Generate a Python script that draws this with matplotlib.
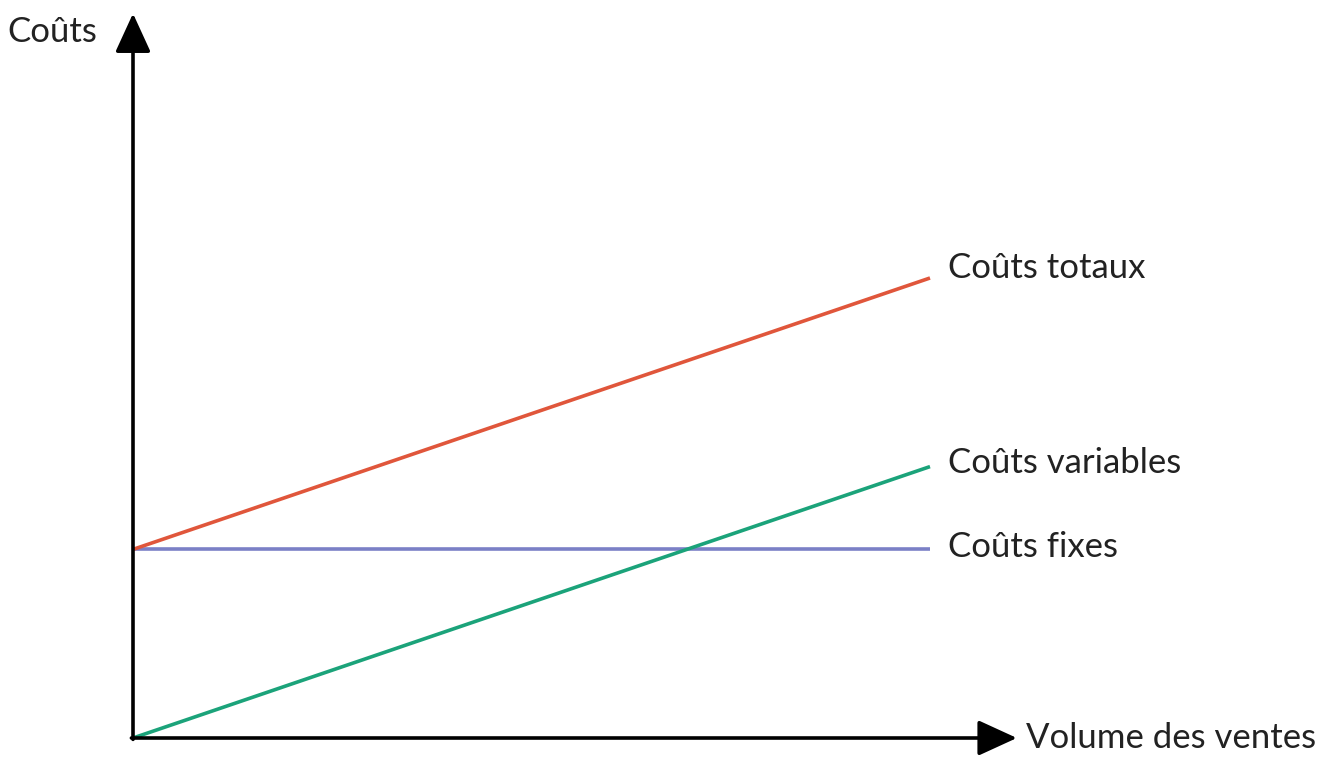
import matplotlib
matplotlib.use("Agg")
import matplotlib.pyplot as plt

# volume des ventes (0..100) et coûts
volume = [0, 100]
couts_fixes = [41, 41]
couts_variables = [0, 59]
couts_totaux = [f + v for f, v in zip(couts_fixes, couts_variables)]

labels = ["Coûts totaux", "Coûts variables", "Coûts fixes"]
colors = ["#e0563b", "#1ba37a", "#7b80c6"]

plt.rcParams['font.family'] = ['Lato', 'DejaVu Sans']

fig = plt.figure(figsize=(13.4, 7.57), dpi=100)
ax = fig.add_axes([0, 0, 1, 1])

# pixel mapping: origin at (133, 738), x=100 -> 930 px, y=100 -> 460 px high
sx = 797 / 100
sy = 460 / 100
ax.set_xlim(-133 / sx, (1340 - 133) / sx)
ax.set_ylim(-19 / sy, (757 - 19) / sy)
ax.axis('off')

ax.plot(volume, couts_fixes, color=colors[2], lw=2.6, solid_capstyle='butt')
ax.plot(volume, couts_totaux, color=colors[0], lw=2.6, solid_capstyle='butt')
ax.plot(volume, couts_variables, color=colors[1], lw=2.6, solid_capstyle='butt')

ends = [couts_totaux[-1], couts_variables[-1], couts_fixes[-1]]
offs = [2.2, 0.8, 0.6]
for lab, y, o in zip(labels, ends, offs):
    ax.text(volume[-1] + 2.2, y + o, lab, fontsize=25, va='center', ha='left', color='#222222')

# axes with arrows
arrow = dict(arrowstyle='-|>,head_length=1.2,head_width=0.55', lw=2.6, color='black',
             shrinkA=0, shrinkB=0, mutation_scale=20)
ax.annotate('', xy=(0, 157.5), xytext=(0, -0.3), arrowprops=arrow)
ax.annotate('', xy=(110.9, 0), xytext=(-0.2, 0), arrowprops=arrow)

ax.text(-15.7, 153.5, "Coûts", fontsize=25, va='center', ha='left', color='#222222')
ax.text(112, 0.0, "Volume des ventes", fontsize=25, va='center', ha='left', color='#222222')

fig.savefig("out.png", dpi=100)
